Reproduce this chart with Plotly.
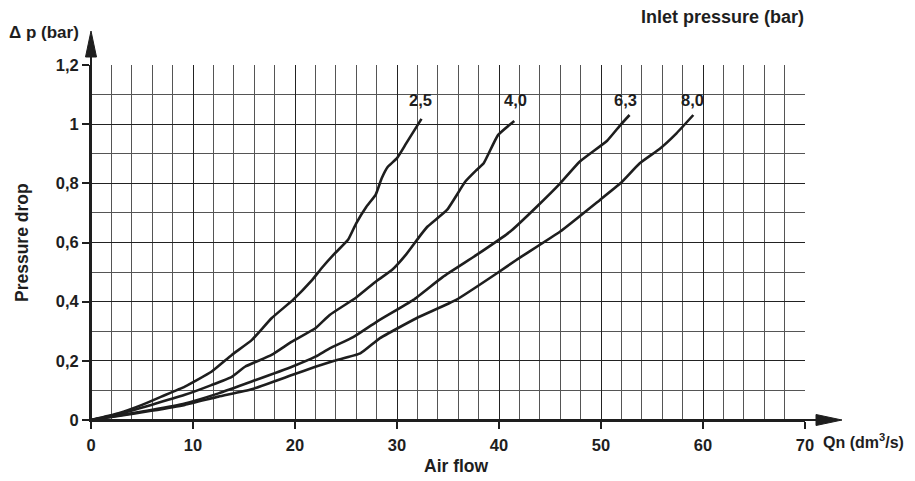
import plotly.graph_objects as go

# ---- data ----
q_25 = [0, 2.7, 5.0, 6.9, 9.2, 11.8, 13.8, 15.75, 17.7, 19.8, 21.6, 22.6, 23.9, 25.2, 26.0, 27.0, 27.9, 28.5, 29.1, 30.0, 30.9, 32.4]
dp_25 = [0, 0.023, 0.051, 0.079, 0.113, 0.163, 0.22, 0.27, 0.344, 0.406, 0.47, 0.513, 0.563, 0.609, 0.665, 0.721, 0.761, 0.817, 0.856, 0.885, 0.935, 1.018]

q_40 = [0, 2.7, 5.9, 9.2, 11.8, 13.8, 15.1, 17.7, 19.7, 22.0, 23.4, 26.0, 28.0, 29.5, 30.9, 32.2, 33.0, 34.9, 36.7, 37.8, 38.5, 39.9, 41.5]
dp_40 = [0, 0.02, 0.051, 0.085, 0.118, 0.146, 0.18, 0.22, 0.265, 0.31, 0.355, 0.414, 0.47, 0.507, 0.56, 0.62, 0.654, 0.71, 0.806, 0.845, 0.868, 0.963, 1.011]

q_63 = [0, 2.7, 5.9, 9.2, 12.5, 15.75, 19.7, 22.0, 23.4, 25.7, 28.0, 31.6, 34.5, 37.8, 41.1, 43.7, 46.0, 47.9, 50.6, 51.9, 52.8]
dp_63 = [0, 0.015, 0.034, 0.056, 0.09, 0.13, 0.18, 0.214, 0.242, 0.28, 0.332, 0.406, 0.484, 0.558, 0.637, 0.721, 0.80, 0.873, 0.944, 0.997, 1.031]

q_80 = [0, 2.7, 5.9, 9.2, 12.5, 15.75, 19.7, 22.0, 23.85, 26.4, 28.3, 31.9, 35.8, 39.8, 41.7, 46.0, 49.9, 51.9, 53.8, 55.8, 57.4, 59.05]
dp_80 = [0, 0.014, 0.031, 0.051, 0.079, 0.104, 0.152, 0.18, 0.2, 0.225, 0.276, 0.344, 0.406, 0.496, 0.541, 0.637, 0.744, 0.80, 0.868, 0.918, 0.969, 1.031]

curve_labels = ["2,5", "4,0", "6,3", "8,0"]
label_x = [32.3, 41.6, 52.4, 59.0]
label_y = [1.083, 1.083, 1.083, 1.083]

x_tickvals = [0, 10, 20, 30, 40, 50, 60, 70]
x_ticktext = ["0", "10", "20", "30", "40", "50", "60", "70"]
y_tickvals = [0, 0.2, 0.4, 0.6, 0.8, 1.0, 1.2]
y_ticktext = ["0", "0,2", "0,4", "0,6", "0,8", "1", "1,2"]

FONT = "Liberation Sans, Arial, sans-serif"
INK = "#1e1e1e"

# page geometry (browser body has an 8px margin)
OFF = 8
PL, PT, PR, PB = 91, 65, 805, 420          # plot area in page pixels
W, H = 915 - OFF - 1, 481 - OFF - 1
L, T = PL - OFF, PT - OFF
pw, ph = PR - PL, PB - PT
R, B = W - L - pw, H - T - ph

fig = go.Figure()
for xs, ys in [(q_25, dp_25), (q_40, dp_40), (q_63, dp_63), (q_80, dp_80)]:
    fig.add_trace(go.Scatter(x=xs, y=ys, mode="lines",
                             line=dict(color=INK, width=2.6, shape="spline", smoothing=0.4),
                             hoverinfo="skip", showlegend=False, cliponaxis=False))

for t, xx, yy in zip(curve_labels, label_x, label_y):
    fig.add_annotation(x=xx, y=yy, xref="x", yref="y", text=t, showarrow=False,
                       font=dict(family=FONT, size=16.5, color=INK, weight="bold"))

fig.update_xaxes(range=[0, 70], tickvals=x_tickvals, ticktext=x_ticktext,
                 ticks="outside", ticklen=7, tickcolor=INK, tickwidth=1.5,
                 ticklabelstandoff=2,
                 showline=True, linecolor=INK, linewidth=2, mirror=False,
                 showgrid=True, gridcolor="#222222", gridwidth=1.2,
                 minor=dict(dtick=2, showgrid=True, gridcolor="#555555", gridwidth=1.2),
                 zeroline=False,
                 tickfont=dict(family=FONT, size=16.5, color=INK, weight="bold"))
fig.update_yaxes(range=[0, 1.2], tickvals=y_tickvals, ticktext=y_ticktext,
                 ticks="outside", ticklen=7, tickcolor=INK, tickwidth=1.5,
                 ticklabelstandoff=0,
                 showline=True, linecolor=INK, linewidth=2, mirror=False,
                 showgrid=True, gridcolor="#222222", gridwidth=1.2,
                 minor=dict(dtick=0.1, showgrid=True, gridcolor="#555555", gridwidth=1.2),
                 zeroline=False,
                 tickfont=dict(family=FONT, size=16.5, color=INK, weight="bold"))


def px(x):
    return (x - PL) / pw


def py(y):
    return (PB - y) / ph


shapes = [
    # extended x axis line + arrow
    dict(type="line", xref="paper", yref="paper", x0=0, y0=0, x1=px(822), y1=0,
         line=dict(color=INK, width=2)),
    dict(type="path", xref="paper", yref="paper",
         path=f"M {px(816)} {py(414.5)} L {px(842)} {py(420)} L {px(816)} {py(425.5)} Z",
         fillcolor=INK, line=dict(color=INK, width=1)),
    # extended y axis line + arrow
    dict(type="line", xref="paper", yref="paper", x0=0, y0=0, x1=0, y1=py(52),
         line=dict(color=INK, width=2)),
    dict(type="path", xref="paper", yref="paper",
         path=f"M {px(85.5)} {py(57)} L {px(91)} {py(31)} L {px(96.5)} {py(57)} Z",
         fillcolor=INK, line=dict(color=INK, width=1)),
]
fig.update_layout(shapes=shapes)


def ann(text, x, y, xanchor="center", yanchor="middle", angle=0, size=17):
    fig.add_annotation(xref="paper", yref="paper", x=px(x), y=py(y), text=text,
                       showarrow=False, xanchor=xanchor, yanchor=yanchor, textangle=angle,
                       font=dict(family=FONT, size=size, color=INK, weight="bold"))


ann("Δ p (bar)", 7, 33, xanchor="left", size=17)
ann("Inlet pressure (bar)", 806, 17, xanchor="right", size=18)
ann("Pressure drop", 22, 243, angle=-90, size=17.5)
ann("Air flow", 456, 466, size=17.5)
ann("Qn (dm<sup>3</sup>/s)", 821, 441, xanchor="left", size=16)

fig.update_layout(width=W, height=H, margin=dict(l=L, r=R, t=T, b=B),
                  paper_bgcolor="white", plot_bgcolor="white",
                  font=dict(family=FONT, color=INK))

fig.write_html("out.html")
